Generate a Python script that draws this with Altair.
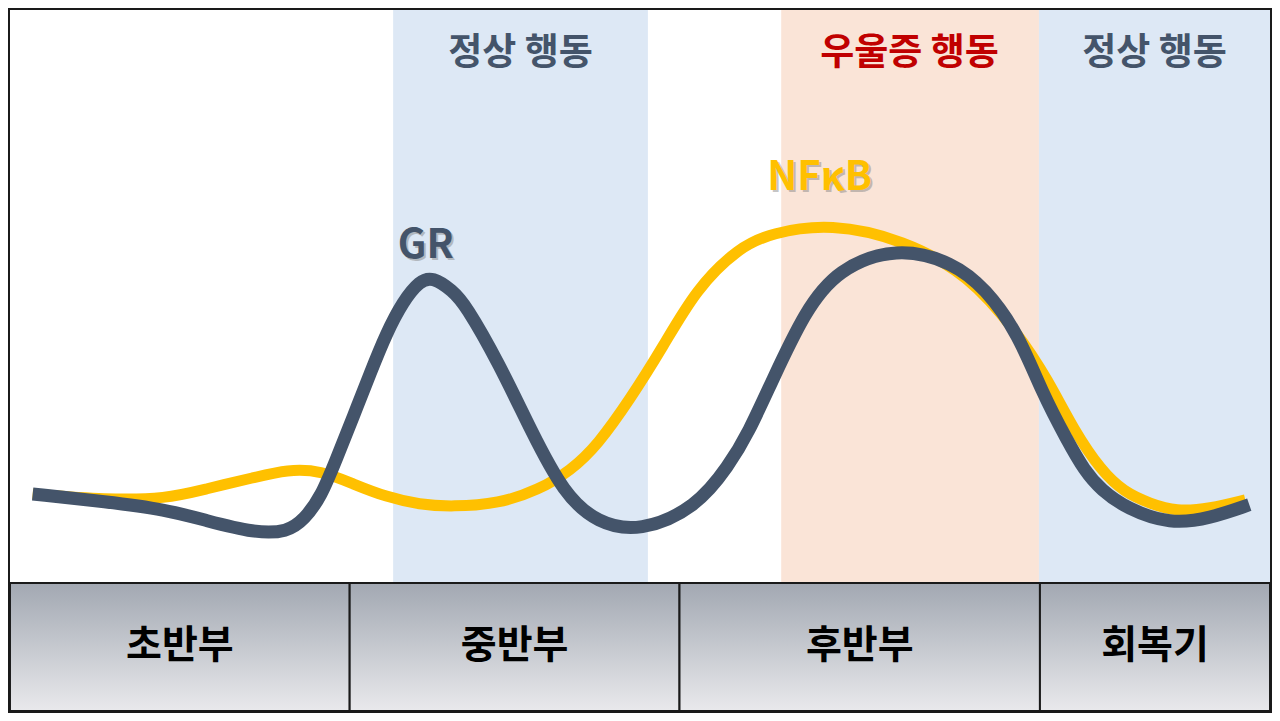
import altair as alt
import pandas as pd

# ---- data (x: time units 0-1280, y: level, 0 at top) ----
gr_t = [25, 100, 160, 200, 250, 283, 300, 317, 333, 350, 367, 383, 400, 417, 430, 450, 463, 497, 530, 563, 597, 640, 697, 730, 750, 773, 807, 840, 900, 957, 990, 1023, 1047, 1073, 1090, 1107, 1133, 1177, 1217, 1257]
gr_v = [497, 505, 513, 524, 537, 536, 523, 500, 460, 417, 373, 333, 300, 279, 275, 289, 303, 363, 433, 497, 527, 536, 511, 468, 434, 383, 310, 267, 244, 260, 287, 333, 393, 443, 473, 493, 512, 528, 522, 508]

nf_t = [25, 100, 160, 200, 250, 283, 317, 350, 383, 417, 450, 497, 537, 570, 597, 630, 663, 697, 740, 773, 833, 907, 973, 1023, 1053, 1080, 1107, 1130, 1157, 1183, 1217, 1253]
nf_v = [497, 503, 502, 492, 480, 472, 473, 487, 500, 508, 510, 507, 493, 473, 447, 400, 347, 287, 245, 230, 220, 237, 273, 333, 380, 433, 473, 495, 507, 515, 512, 503]

band_start = [390, 783, 1044]
band_end = [648, 1044, 1278]
band_color = ["#dde8f5", "#fae4d7", "#dde8f5"]
band_label = ["정상 행동", "우울증 행동", "정상 행동"]
band_label_color = ["#44546a", "#c00000", "#44546a"]
band_label_x = [519, 913, 1161]

phase_start = [2, 346, 680, 1045]
phase_end = [346, 680, 1045, 1278]
phase_label = ["초반부", "중반부", "후반부", "회복기"]

series_label = ["GR", "NFκB"]
series_label_x = [423, 822]
series_label_y = [243, 174]
series_color = ["#44546a", "#ffc000"]

W, H = 1264, 705
FONT = "Noto Sans CJK KR"

xs = alt.Scale(domain=[0, 1280], nice=False, zero=False)
ys = alt.Scale(domain=[0, 721], nice=False, zero=False, reverse=True)

bands = pd.DataFrame({"s": band_start, "e": band_end, "c": band_color,
                      "y0": [2] * 3, "y1": [588] * 3})
band_layer = alt.Chart(bands).mark_rect().encode(
    x=alt.X("s:Q", scale=xs, axis=None), x2="e:Q",
    y=alt.Y("y0:Q", scale=ys, axis=None), y2="y1:Q",
    color=alt.Color("c:N", scale=None),
)

band_txt = pd.DataFrame({"x": band_label_x, "y": [47] * 3, "t": band_label, "c": band_label_color})
band_text = alt.Chart(band_txt).mark_text(font=FONT, fontSize=37, fontWeight="bold",
                                          align="center", baseline="middle").encode(
    x=alt.X("x:Q", scale=xs, axis=None), y=alt.Y("y:Q", scale=ys, axis=None),
    text="t:N", color=alt.Color("c:N", scale=None),
)

grad = alt.LinearGradient(
    gradient="linear", x1=0, x2=0, y1=0, y2=1,
    stops=[alt.GradientStop(color="#a2a8b2", offset=0),
           alt.GradientStop(color="#e9e9ec", offset=1)],
)
phases = pd.DataFrame({"s": phase_start, "e": phase_end, "t": phase_label,
                       "y0": [588] * 4, "y1": [719] * 4,
                       "m": [(a + b) / 2 for a, b in zip(phase_start, phase_end)],
                       "ty": [652] * 4})
phase_layer = alt.Chart(phases).mark_rect(fill=grad, stroke="#1a1a1a", strokeWidth=2).encode(
    x=alt.X("s:Q", scale=xs, axis=None), x2="e:Q",
    y=alt.Y("y0:Q", scale=ys, axis=None), y2="y1:Q",
)
phase_text = alt.Chart(phases).mark_text(font=FONT, fontSize=39, fontWeight="bold",
                                         color="#000000", align="center", baseline="middle").encode(
    x=alt.X("m:Q", scale=xs, axis=None), y=alt.Y("ty:Q", scale=ys, axis=None), text="t:N",
)

nf = pd.DataFrame({"t": nf_t, "v": nf_v})
gr = pd.DataFrame({"t": gr_t, "v": gr_v})
nf_line = alt.Chart(nf).mark_line(color="#ffc000", strokeWidth=11, interpolate="basis",
                                  strokeCap="butt").encode(
    x=alt.X("t:Q", scale=xs, axis=None), y=alt.Y("v:Q", scale=ys, axis=None),
)
gr_line = alt.Chart(gr).mark_line(color="#44546a", strokeWidth=13, interpolate="basis",
                                  strokeCap="butt").encode(
    x=alt.X("t:Q", scale=xs, axis=None), y=alt.Y("v:Q", scale=ys, axis=None),
)

sl = pd.DataFrame({"x": series_label_x, "y": series_label_y, "t": series_label, "c": series_color})
shadow = alt.Chart(sl).mark_text(font=FONT, fontSize=40, fontWeight="bold", color="#7f7f7f",
                                 opacity=0.45, align="center", baseline="middle", dx=2, dy=2).encode(
    x=alt.X("x:Q", scale=xs, axis=None), y=alt.Y("y:Q", scale=ys, axis=None), text="t:N",
)
series_text = alt.Chart(sl).mark_text(font=FONT, fontSize=40, fontWeight="bold",
                                      align="center", baseline="middle").encode(
    x=alt.X("x:Q", scale=xs, axis=None), y=alt.Y("y:Q", scale=ys, axis=None),
    text="t:N", color=alt.Color("c:N", scale=None),
)

frame = alt.Chart(pd.DataFrame({"a": [1], "b": [1279], "c": [1], "d": [720]})).mark_rect(
    fill=None, fillOpacity=0, stroke="#1a1a1a", strokeWidth=2).encode(
    x=alt.X("a:Q", scale=xs, axis=None), x2="b:Q",
    y=alt.Y("c:Q", scale=ys, axis=None), y2="d:Q",
)

chart = alt.layer(
    band_layer, band_text, phase_layer, phase_text, nf_line, gr_line, shadow, series_text, frame
).properties(
    width=W, height=H, autosize=alt.AutoSizeParams(type="none"), padding=0, background="white"
).configure_view(stroke=None)

chart.save("out.html", embed_options={"renderer": "svg", "actions": False})
